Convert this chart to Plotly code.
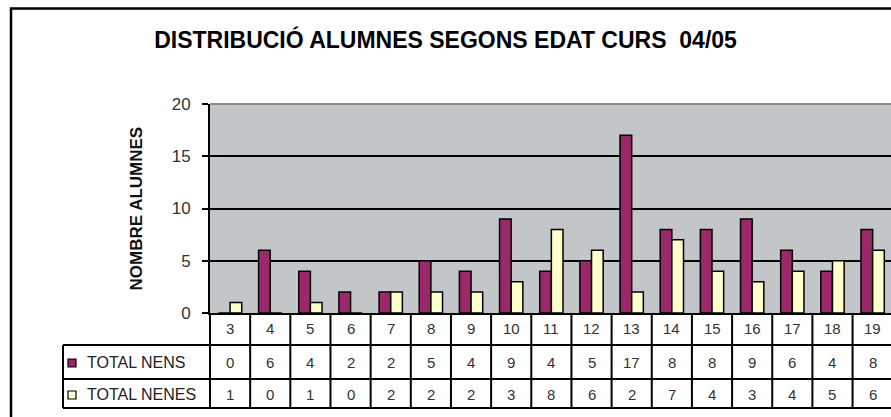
import plotly.graph_objects as go

# ages (categories) and pupil counts per series
edats = ["3", "4", "5", "6", "7", "8", "9", "10", "11", "12", "13", "14", "15", "16", "17", "18", "19"]
total_nens = [0, 6, 4, 2, 2, 5, 4, 9, 4, 5, 17, 8, 8, 9, 6, 4, 8]
total_nenes = [1, 0, 1, 0, 2, 2, 2, 3, 8, 6, 2, 7, 4, 3, 4, 5, 6]
series = [("TOTAL NENS", total_nens, "#9b2868"), ("TOTAL NENES", total_nenes, "#ffffcc")]

FONT = "Liberation Sans, Arial, sans-serif"
W, H = 891, 417
L, T, B = 210, 104, 104
PW, PH = W - L, H - T - B


def px(x):  # pixel -> paper x
    return (x - L) / PW


def py(y):  # pixel -> paper y
    return (H - B - y) / PH


fig = go.Figure()
for name, vals, col in series:
    fig.add_trace(go.Bar(
        x=edats, y=vals, name=name,
        marker=dict(color=col, line=dict(color="black", width=1.5)),
        showlegend=False,
    ))

shapes = []
annotations = []

# ── data table under the plot ────────────────────────────────────────────────
row_y = [py(328), py(362), py(394)]
cell_font = dict(size=15, color="#333")
for i, e in enumerate(edats):
    annotations.append(dict(x=i, y=row_y[0], xref="x", yref="paper", text=e,
                            xanchor="center", yanchor="middle", showarrow=False, font=cell_font))
    for r, (name, vals, col) in enumerate(series, 1):
        annotations.append(dict(x=i, y=row_y[r], xref="x", yref="paper", text=str(vals[i]),
                                xanchor="center", yanchor="middle", showarrow=False, font=cell_font))

line = dict(color="black", width=2)
for i in range(1, len(edats) + 1):
    shapes.append(dict(type="line", xref="x", yref="paper", x0=i - 0.5, x1=i - 0.5,
                       y0=0, y1=py(408), line=line))
for yy in (345, 379, 408):
    shapes.append(dict(type="line", xref="paper", yref="paper", x0=px(63), x1=1.02,
                       y0=py(yy), y1=py(yy), line=line))
shapes.append(dict(type="line", xref="paper", yref="paper", x0=px(63), x1=px(63),
                   y0=py(345), y1=py(408), line=line))
shapes.append(dict(type="line", xref="paper", yref="paper", x0=0, x1=0,
                   y0=0, y1=py(408), line=line))

# legend keys inside the table
for (name, vals, col), (ky0, ky1), ty in zip(series, [(359, 367), (391, 399)], row_y[1:]):
    shapes.append(dict(type="rect", xref="paper", yref="paper", x0=px(68), x1=px(76),
                       y0=py(ky1), y1=py(ky0), fillcolor=col, line=dict(color="black", width=1.2)))
    annotations.append(dict(x=px(85), y=ty, xref="paper", yref="paper", text=name,
                            xanchor="left", yanchor="middle", showarrow=False,
                            font=dict(size=16, color="#222")))

# plot-area top border and outer chart frame
shapes.append(dict(type="line", xref="paper", yref="paper", x0=0, x1=1, y0=1, y1=1,
                   line=dict(color="#8a8a8a", width=2)))
shapes.append(dict(type="rect", xref="paper", yref="paper", x0=px(11), x1=1.1,
                   y0=-0.7, y1=py(8.5), line=dict(color="black", width=2.5), layer="above"))

annotations.append(dict(x=px(136), y=0.5, xref="paper", yref="paper", text="<b>NOMBRE ALUMNES</b>",
                        textangle=-90, xanchor="center", yanchor="middle", showarrow=False,
                        font=dict(size=17, color="#111")))

fig.update_layout(
    width=W, height=H,
    margin=dict(l=L, r=0, t=T, b=B, pad=0),
    paper_bgcolor="white",
    plot_bgcolor="#c3c6c9",
    font=dict(family=FONT),
    barmode="group",
    bargap=0.42,
    bargroupgap=0,
    title=dict(text="<b>DISTRIBUCIÓ ALUMNES SEGONS EDAT CURS\u00a0\u00a004/05</b>",
               xref="container", x=0.5, y=1 - 40 / H, yanchor="middle", xanchor="center",
               font=dict(size=23, color="black", family=FONT)),
    shapes=shapes,
    annotations=annotations,
)
fig.update_xaxes(type="category", range=[-0.5, -0.5 + PW / 40.16], showticklabels=False,
                 showgrid=False, showline=True, linecolor="black", linewidth=2, ticks="")
fig.update_yaxes(range=[0, 20], dtick=5, showgrid=True, gridcolor="black", gridwidth=1.5,
                 showline=True, linecolor="black", linewidth=2, ticks="outside", ticklen=6,
                 tickcolor="black", tickwidth=2, ticklabelstandoff=8, zeroline=False,
                 tickfont=dict(size=17, color="#333"))

fig.write_html("out.html", config={"displayModeBar": False},
               post_script="document.body.style.margin='0';document.body.style.overflow='hidden';")
